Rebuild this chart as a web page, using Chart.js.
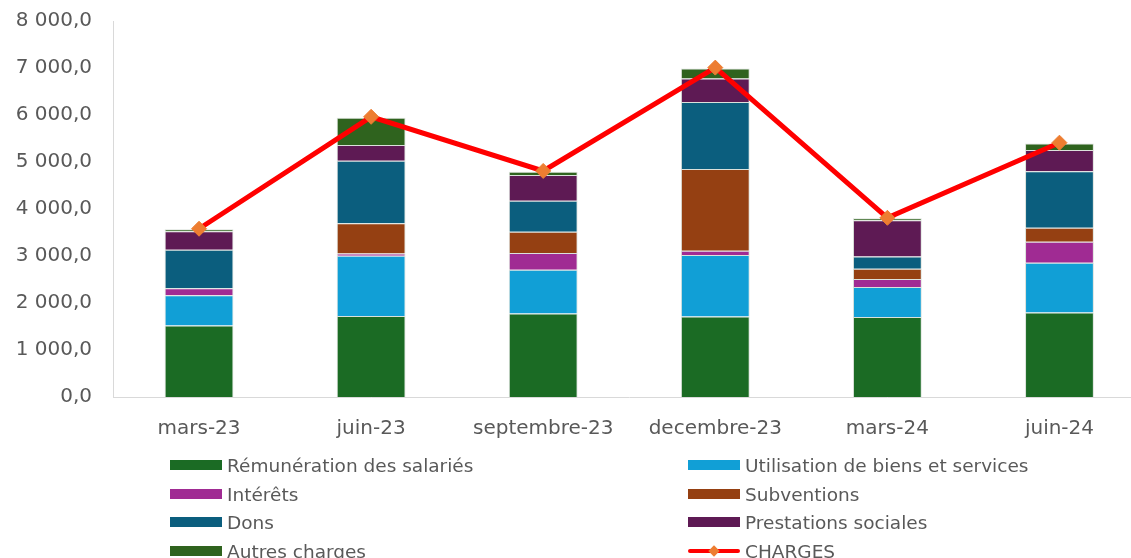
<!DOCTYPE html>
<html>
<head>
<meta charset="utf-8">
<script src="https://cdn.jsdelivr.net/npm/chart.js@4"></script>
<style>
  html, body { margin: 0; padding: 0; background: #fff; overflow: hidden; width: 1131px; height: 558px; }
  #wrap { position: absolute; left: 0; top: -12px; width: 1154px; height: 452px; }
  #legend { position: absolute; left: 0; top: 0; width: 1131px; height: 558px; pointer-events: none;
            font-family: "DejaVu Sans", sans-serif; font-size: 18.5px; color: #595959; }
  .item { position: absolute; height: 28px; display: flex; align-items: center; white-space: nowrap; }
  .sw { width: 52px; height: 10px; margin-right: 5px; position: relative; }
  .sw.line .l { position: absolute; left: 0; right: 0; top: 3px; height: 4px; background: #ff0000; border-radius: 2px; }
  .sw.line .d { position: absolute; width: 8px; height: 8px; background: #ed7d31; transform: rotate(45deg); left: 22px; top: 1px; }
</style>
</head>
<body>
<div id="wrap"><canvas id="c" width="1154" height="452"></canvas></div>
<div id="legend"></div>
<script>
const categories = ['mars-23', 'juin-23', 'septembre-23', 'decembre-23', 'mars-24', 'juin-24'];
const remuneration = [1521, 1725, 1776, 1712, 1704, 1797];
const utilisation  = [643, 1281, 933, 1308, 636, 1061];
const interets     = [149, 49, 353, 92, 170, 446];
const subventions  = [0, 643, 454, 1740, 221, 297];
const dons         = [821, 1331, 657, 1422, 261, 1201];
const prestations  = [395, 333, 552, 501, 770, 454];
const autres       = [42, 579, 70, 212, 42, 140];
const charges      = [3580, 5962, 4810, 7008, 3813, 5411];
const yTicks       = [0, 1000, 2000, 3000, 4000, 5000, 6000, 7000, 8000];

Chart.defaults.font.family = '"DejaVu Sans", sans-serif';
Chart.defaults.color = '#595959';

function barSet(label, data, color) {
  return { type: 'bar', label, data, backgroundColor: color, borderColor: 'rgba(190,200,190,0.55)',
           borderWidth: 1, stack: 'bars', order: 1, barPercentage: 0.4, categoryPercentage: 1 };
}

function fmt(v) {
  const s = Math.abs(v).toFixed(1).split('.');
  const int = s[0].replace(/\B(?=(\d{3})+(?!\d))/g, ' ');
  return int + ',' + s[1];
}

const datasets = [
  barSet('Rémunération des salariés', remuneration, '#1b6b24'),
  barSet('Utilisation de biens et services', utilisation, '#119fd6'),
  barSet('Intérêts', interets, '#a02b93'),
  barSet('Subventions', subventions, '#954012'),
  barSet('Dons', dons, '#0b5e7e'),
  barSet('Prestations sociales', prestations, '#5e1a54'),
  barSet('Autres charges', autres, '#2f631e'),
  { type: 'line', label: 'CHARGES', data: charges, stack: 'line', order: 0,
    borderColor: '#ff0000', borderWidth: 5, tension: 0,
    pointStyle: 'rectRot', pointRadius: 7.5, pointHoverRadius: 7.5,
    pointBackgroundColor: '#ed7d31', pointBorderColor: '#ed7d31', pointBorderWidth: 1 }
];

const chart = new Chart(document.getElementById('c'), {
  type: 'bar',
  data: { labels: categories, datasets },
  options: {
    responsive: false,
    animation: false,
    layout: { padding: { top: 8, right: 1, left: 0, bottom: 0 } },
    plugins: { legend: { display: false }, tooltip: { enabled: false }, title: { display: false } },
    scales: {
      x: {
        stacked: true,
        grid: { display: false, drawTicks: false },
        border: { display: true, color: '#d9d9d9', width: 1 },
        ticks: { font: { size: 20 }, color: '#595959', padding: 20, maxRotation: 0, autoSkip: false },
        afterFit: (s) => { s.height = 43; }
      },
      y: {
        stacked: true,
        min: 0, max: 8000,
        afterBuildTicks: (s) => { s.ticks = yTicks.map(v => ({ value: v })); },
        grid: { display: false, drawTicks: false },
        border: { display: true, color: '#d9d9d9', width: 1 },
        ticks: { font: { size: 20 }, color: '#595959', padding: 21, callback: (v) => fmt(v) },
        afterFit: (s) => { s.width = 113; }
      }
    }
  }
});

const legend = document.getElementById('legend');
const colX = [170, 688];
const rowY = [451, 480, 508, 537];
chart.data.datasets.forEach((ds, i) => {
  const item = document.createElement('div');
  item.className = 'item';
  item.style.left = colX[i % 2] + 'px';
  item.style.top = rowY[Math.floor(i / 2)] + 'px';
  const sw = document.createElement('div');
  if (ds.type === 'line') {
    sw.className = 'sw line';
    sw.innerHTML = '<div class="l"></div><div class="d"></div>';
  } else {
    sw.className = 'sw';
    sw.style.background = ds.backgroundColor;
  }
  const tx = document.createElement('span');
  tx.textContent = ds.label;
  item.appendChild(sw);
  item.appendChild(tx);
  legend.appendChild(item);
});
</script>
</body>
</html>
